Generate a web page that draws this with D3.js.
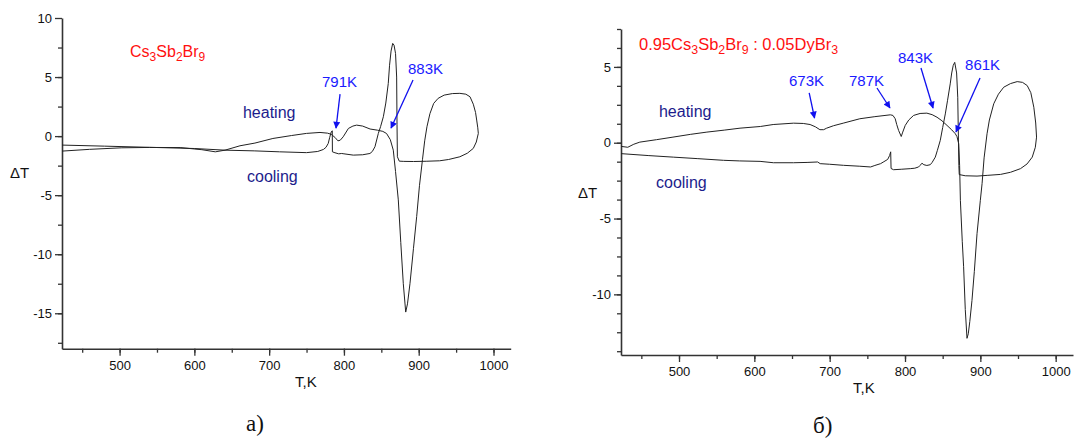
<!DOCTYPE html>
<html>
<head>
<meta charset="utf-8">
<script src="https://cdn.jsdelivr.net/npm/d3@7"></script>
<style>
  body { margin: 0; background: #fff; }
  svg text { font-family: "Liberation Sans", Arial, sans-serif; }
</style>
</head>
<body>
<div id="chart"></div>
<script>
// ---- data (T in K, dT) ----
const heatingA = [
  [423,-1.27],[460,-1.12],[503,-0.99],[540,-0.96],[581,-0.97],[610,-1.15],[628,-1.33],
  [641,-1.19],[661,-0.82],[681,-0.59],[705,-0.2],[730,0.05],[750,0.23],[768,0.31],
  [778,0.25],[783,0.15],[788,-0.11],[792,-0.4],[795,-0.35],[799,-0.06],[806,0.65],
  [812,0.85],[817,0.93],[825,0.85],[835,0.6],[845,0.5],[852,0.4],[857,0.22],[862,-0.3],
  [866,-1.19],[869,-3],[872.7,-5.4],[876,-9],[879.4,-12.5],[882.6,-14.9],[885,-14.2],
  [888.3,-12.5],[893,-9.5],[897.3,-6.8],[901,-4.2],[905,-2.0],[908,-0.4],[911,0.79],
  [915,1.9],[920,2.77],[926,3.2],[934,3.47],[945,3.6],[955,3.62],[963,3.55],[968.6,3.33],
  [973,2.7],[976,2.0],[977.5,1.36],[979,0.7],[979.7,0.23]
];
const coolingA = [
  [979.7,0.23],[977,-0.5],[973,-1.04],[965,-1.45],[955,-1.75],[940,-1.98],[928,-2.09],
  [910,-2.13],[893,-2.15],[880,-2.14],[874,-2.12],[871.5,-1.75],[871,1],[870.5,5],
  [869,7],[867,7.7],[865.2,7.85],[863,7.2],[861,6],[859.3,4.46],[856,2.8],[852.7,1.64],
  [849,0.8],[846,0.23],[841.5,-0.9],[838,-1.3],[834.8,-1.47],[825,-1.58],[812.5,-1.61],
  [800,-1.5],[797,-1.47],[793,-1.5],[788,-1.41],[784.6,-1.33],[784.4,0.45],[783,0.35],
  [781,-0.1],[779,-0.62],[776,-0.95],[772.6,-1.13],[765,-1.3],[750,-1.4],[714,-1.33],
  [680,-1.25],[641,-1.19],[600,-1.05],[540,-0.95],[480,-0.85],[423,-0.76]
];
const heatingB = [
  [423,-0.24],[432,-0.3],[440,-0.1],[448,0.04],[470,0.2],[492,0.37],[515,0.55],[537,0.7],
  [560,0.83],[581,0.96],[608,1.07],[625,1.2],[652,1.29],[665,1.27],[674,1.2],[681,1.05],
  [687,0.86],[692,0.86],[696,0.96],[705,1.12],[718,1.29],[740,1.58],[760,1.72],[780.5,1.84],
  [784,1.8],[787,1.58],[789,1.2],[791.5,0.81],[795,0.41],[797,0.7],[800.3,1.14],[805,1.5],
  [811.4,1.8],[820,1.93],[829,1.95],[836,1.85],[842.5,1.68],[849,1.45],[855.8,1.14],
  [862,0.85],[866.8,0.59],[869,0.4],[871.3,-0.07],[872.5,-1.5],[873.5,-3.8],[876,-6.5],
  [877.8,-8.18],[880,-11],[882.3,-12.9],[884,-12.6],[886,-11.8],[888.9,-10.4],[892,-8.5],
  [895.6,-6.0],[900,-3.8],[902.3,-2.7],[905,-1.0],[908.9,0.59],[912,1.5],[917.8,2.57],
  [924,3.2],[931,3.66],[940,3.9],[948.9,4.03],[956,3.98],[962.2,3.77],[967,3.3],[971,2.34],
  [973.5,1.3],[974.6,0.37]
];
const coolingB = [
  [974.6,0.37],[973,-0.3],[968.9,-0.95],[962,-1.4],[953.3,-1.71],[940,-1.95],[926.8,-2.09],
  [910,-2.15],[895.6,-2.2],[880,-2.18],[872,-2.1],[871.5,-1.5],[871,0],[870,3],[868.5,4.6],
  [866,5.3],[864,5.1],[862,4.6],[860,3.88],[856.5,2.8],[853.5,1.9],[850,1.0],[846.8,0.15],
  [843,-0.5],[840.2,-0.95],[836,-1.3],[833.5,-1.45],[829,-1.5],[825,-1.45],[822.5,-1.35],
  [820,-1.5],[818,-1.6],[813,-1.68],[807,-1.71],[795,-1.75],[784.8,-1.78],[781.5,-1.7],
  [781,-0.6],[779.5,-0.85],[777,-1.1],[772,-1.25],[767.6,-1.38],[760,-1.5],[754.3,-1.6],
  [740,-1.55],[718.4,-1.49],[700,-1.42],[687.4,-1.38],[684,-1.27],[670,-1.3],[652,-1.32],
  [625.4,-1.32],[607.6,-1.23],[580,-1.2],[559,-1.16],[525,-1.05],[492.4,-0.95],[460,-0.85],
  [423,-0.72]
];

// arrows: label, text pos [T,dT], arrow from [T,dT], arrow to [T,dT]
const notesA = [
  ["791K", [770.7,4.15], [794.8,3.56], [789.4,0.68]],
  ["883K", [885.7,5.25], [892.4,4.75], [863,0.68]]
];
const notesB = [
  ["673K", [646,3.74], [672.8,3.28], [679.9,1.63]],
  ["787K", [725.7,3.74], [762.8,3.61], [780,2.29]],
  ["843K", [790.7,5.26], [821.2,4.93], [837.2,2.29]],
  ["861K", [879.7,4.79], [899.6,4.27], [867.7,0.71]]
];

const xTicks = [500, 600, 700, 800, 900, 1000];
const yTicksA = [-15, -10, -5, 0, 5, 10];
const yTicksB = [-10, -5, 0, 5];

const width = 1074, height = 441;
const svg = d3.select("#chart").append("svg")
  .attr("width", width).attr("height", height);

svg.append("defs").append("marker")
  .attr("id", "arr")
  .attr("viewBox", "0 0 10 10")
  .attr("refX", 9).attr("refY", 5)
  .attr("markerWidth", 9).attr("markerHeight", 7)
  .attr("markerUnits", "userSpaceOnUse")
  .attr("orient", "auto")
  .append("path").attr("d", "M0,0 L10,5 L0,10 z").attr("fill", "#1010ee");

const fmt = d => String(d);   // plain "1000", "-15"

function panel(opt) {
  const x = d3.scaleLinear().domain([423, 1023]).range(opt.xr);
  const y = d3.scaleLinear().domain(opt.yd).range(opt.yr);
  const g = svg.append("g");

  // minor ticks
  g.append("g").attr("transform", `translate(0,${opt.yr[0]})`)
    .call(d3.axisBottom(x).tickValues(d3.range(450, 1001, 50)).tickSize(4).tickSizeOuter(0).tickFormat(""))
    .call(a => a.select(".domain").remove());
  g.append("g").attr("transform", `translate(${opt.xr[0]},0)`)
    .call(d3.axisLeft(y).tickValues(d3.range(opt.yminor[0], opt.yminor[1] + 0.01, opt.yminor[2])).tickSize(4).tickSizeOuter(0).tickFormat(""))
    .call(a => a.select(".domain").remove());

  // major axes
  const xa = g.append("g").attr("transform", `translate(0,${opt.yr[0]})`)
    .call(d3.axisBottom(x).tickValues(xTicks).tickFormat(fmt).tickSize(7).tickSizeOuter(0).tickPadding(5));
  const ya = g.append("g").attr("transform", `translate(${opt.xr[0]},0)`)
    .call(d3.axisLeft(y).tickValues(opt.yt).tickFormat(fmt).tickSize(7).tickSizeOuter(0).tickPadding(3));
  [xa, ya].forEach(a => {
    a.selectAll("text").attr("font-size", 13).attr("fill", "#111")
      .style("font-family", "'Liberation Sans', Arial, sans-serif");
  });
  g.selectAll(".tick line").attr("stroke", "#333").attr("stroke-width", 1.3);
  g.selectAll(".domain").attr("stroke", "#333").attr("stroke-width", 1.6);

  const line = d3.line().x(d => x(d[0])).y(d => y(d[1]));
  [opt.heat, opt.cool].forEach(s => {
    g.append("path").datum(s).attr("d", line)
      .attr("fill", "none").attr("stroke", "#222").attr("stroke-width", 1)
      .attr("stroke-linejoin", "round");
  });

  // title with subscripts
  const t = g.append("text").attr("x", x(opt.title[0][0])).attr("y", y(opt.title[0][1]))
    .attr("font-size", opt.titleSize).attr("fill", "#ff1010");
  opt.title[1].forEach(p => {
    if (p.sub) t.append("tspan").attr("font-size", opt.titleSize * 0.75).attr("dy", 4).text(p.sub);
    else t.append("tspan").attr("dy", p.after ? -4 : 0).text(p.t);
  });

  opt.notes.forEach(n => {
    g.append("text").attr("x", x(n[1][0])).attr("y", y(n[1][1]))
      .attr("font-size", 15).attr("fill", "#1a1aff").text(n[0]);
    g.append("line")
      .attr("x1", x(n[2][0])).attr("y1", y(n[2][1]))
      .attr("x2", x(n[3][0])).attr("y2", y(n[3][1]))
      .attr("stroke", "#1010ee").attr("stroke-width", 1.3)
      .attr("marker-end", "url(#arr)");
  });

  g.append("text").attr("x", x(opt.heatLbl[0])).attr("y", y(opt.heatLbl[1]))
    .attr("font-size", 16).attr("fill", "#1c1c8c").text("heating");
  g.append("text").attr("x", x(opt.coolLbl[0])).attr("y", y(opt.coolLbl[1]))
    .attr("font-size", 16).attr("fill", "#1c1c8c").text("cooling");

  g.append("text").attr("x", opt.dtPos[0]).attr("y", opt.dtPos[1])
    .attr("font-size", 15).attr("fill", "#111").text("ΔT");
  g.append("text").attr("x", opt.tkPos[0]).attr("y", opt.tkPos[1])
    .attr("font-size", 15).attr("fill", "#111").text("T,K");
  g.append("text").attr("x", opt.capPos[0]).attr("y", opt.capPos[1])
    .attr("font-size", 23).attr("fill", "#111")
    .style("font-family", "'Liberation Serif', 'Times New Roman', serif")
    .text(opt.cap);
}

panel({
  xr: [62, 510.7], yd: [-18, 10], yr: [348.7, 18],
  yt: yTicksA, yminor: [-17.5, 7.5, 2.5],
  heat: heatingA, cool: coolingA, notes: notesA, titleSize: 16,
  title: [[514, 6.7], [{t: "Cs"}, {sub: "3"}, {t: "Sb", after: true}, {sub: "2"}, {t: "Br", after: true}, {sub: "9"}]],
  heatLbl: [665, 1.53], coolLbl: [670.4, -3.9],
  dtPos: [10, 178], tkPos: [295, 387], capPos: [246, 431], cap: "а)"
});

panel({
  xr: [621, 1073], yd: [-14, 7.5], yr: [355, 29],
  yt: yTicksB, yminor: [-13.75, 7.5, 1.25],
  heat: heatingB, cool: coolingB, notes: notesB, titleSize: 16.5,
  title: [[446.9, 6.11], [{t: "0.95Cs"}, {sub: "3"}, {t: "Sb", after: true}, {sub: "2"}, {t: "Br", after: true}, {sub: "9"}, {t: " : 0.05DyBr", after: true}, {sub: "3"}]],
  heatLbl: [473.4, 1.69], coolLbl: [469.5, -2.99],
  dtPos: [578, 198], tkPos: [853, 393], capPos: [813, 433], cap: "б)"
});
</script>
</body>
</html>
